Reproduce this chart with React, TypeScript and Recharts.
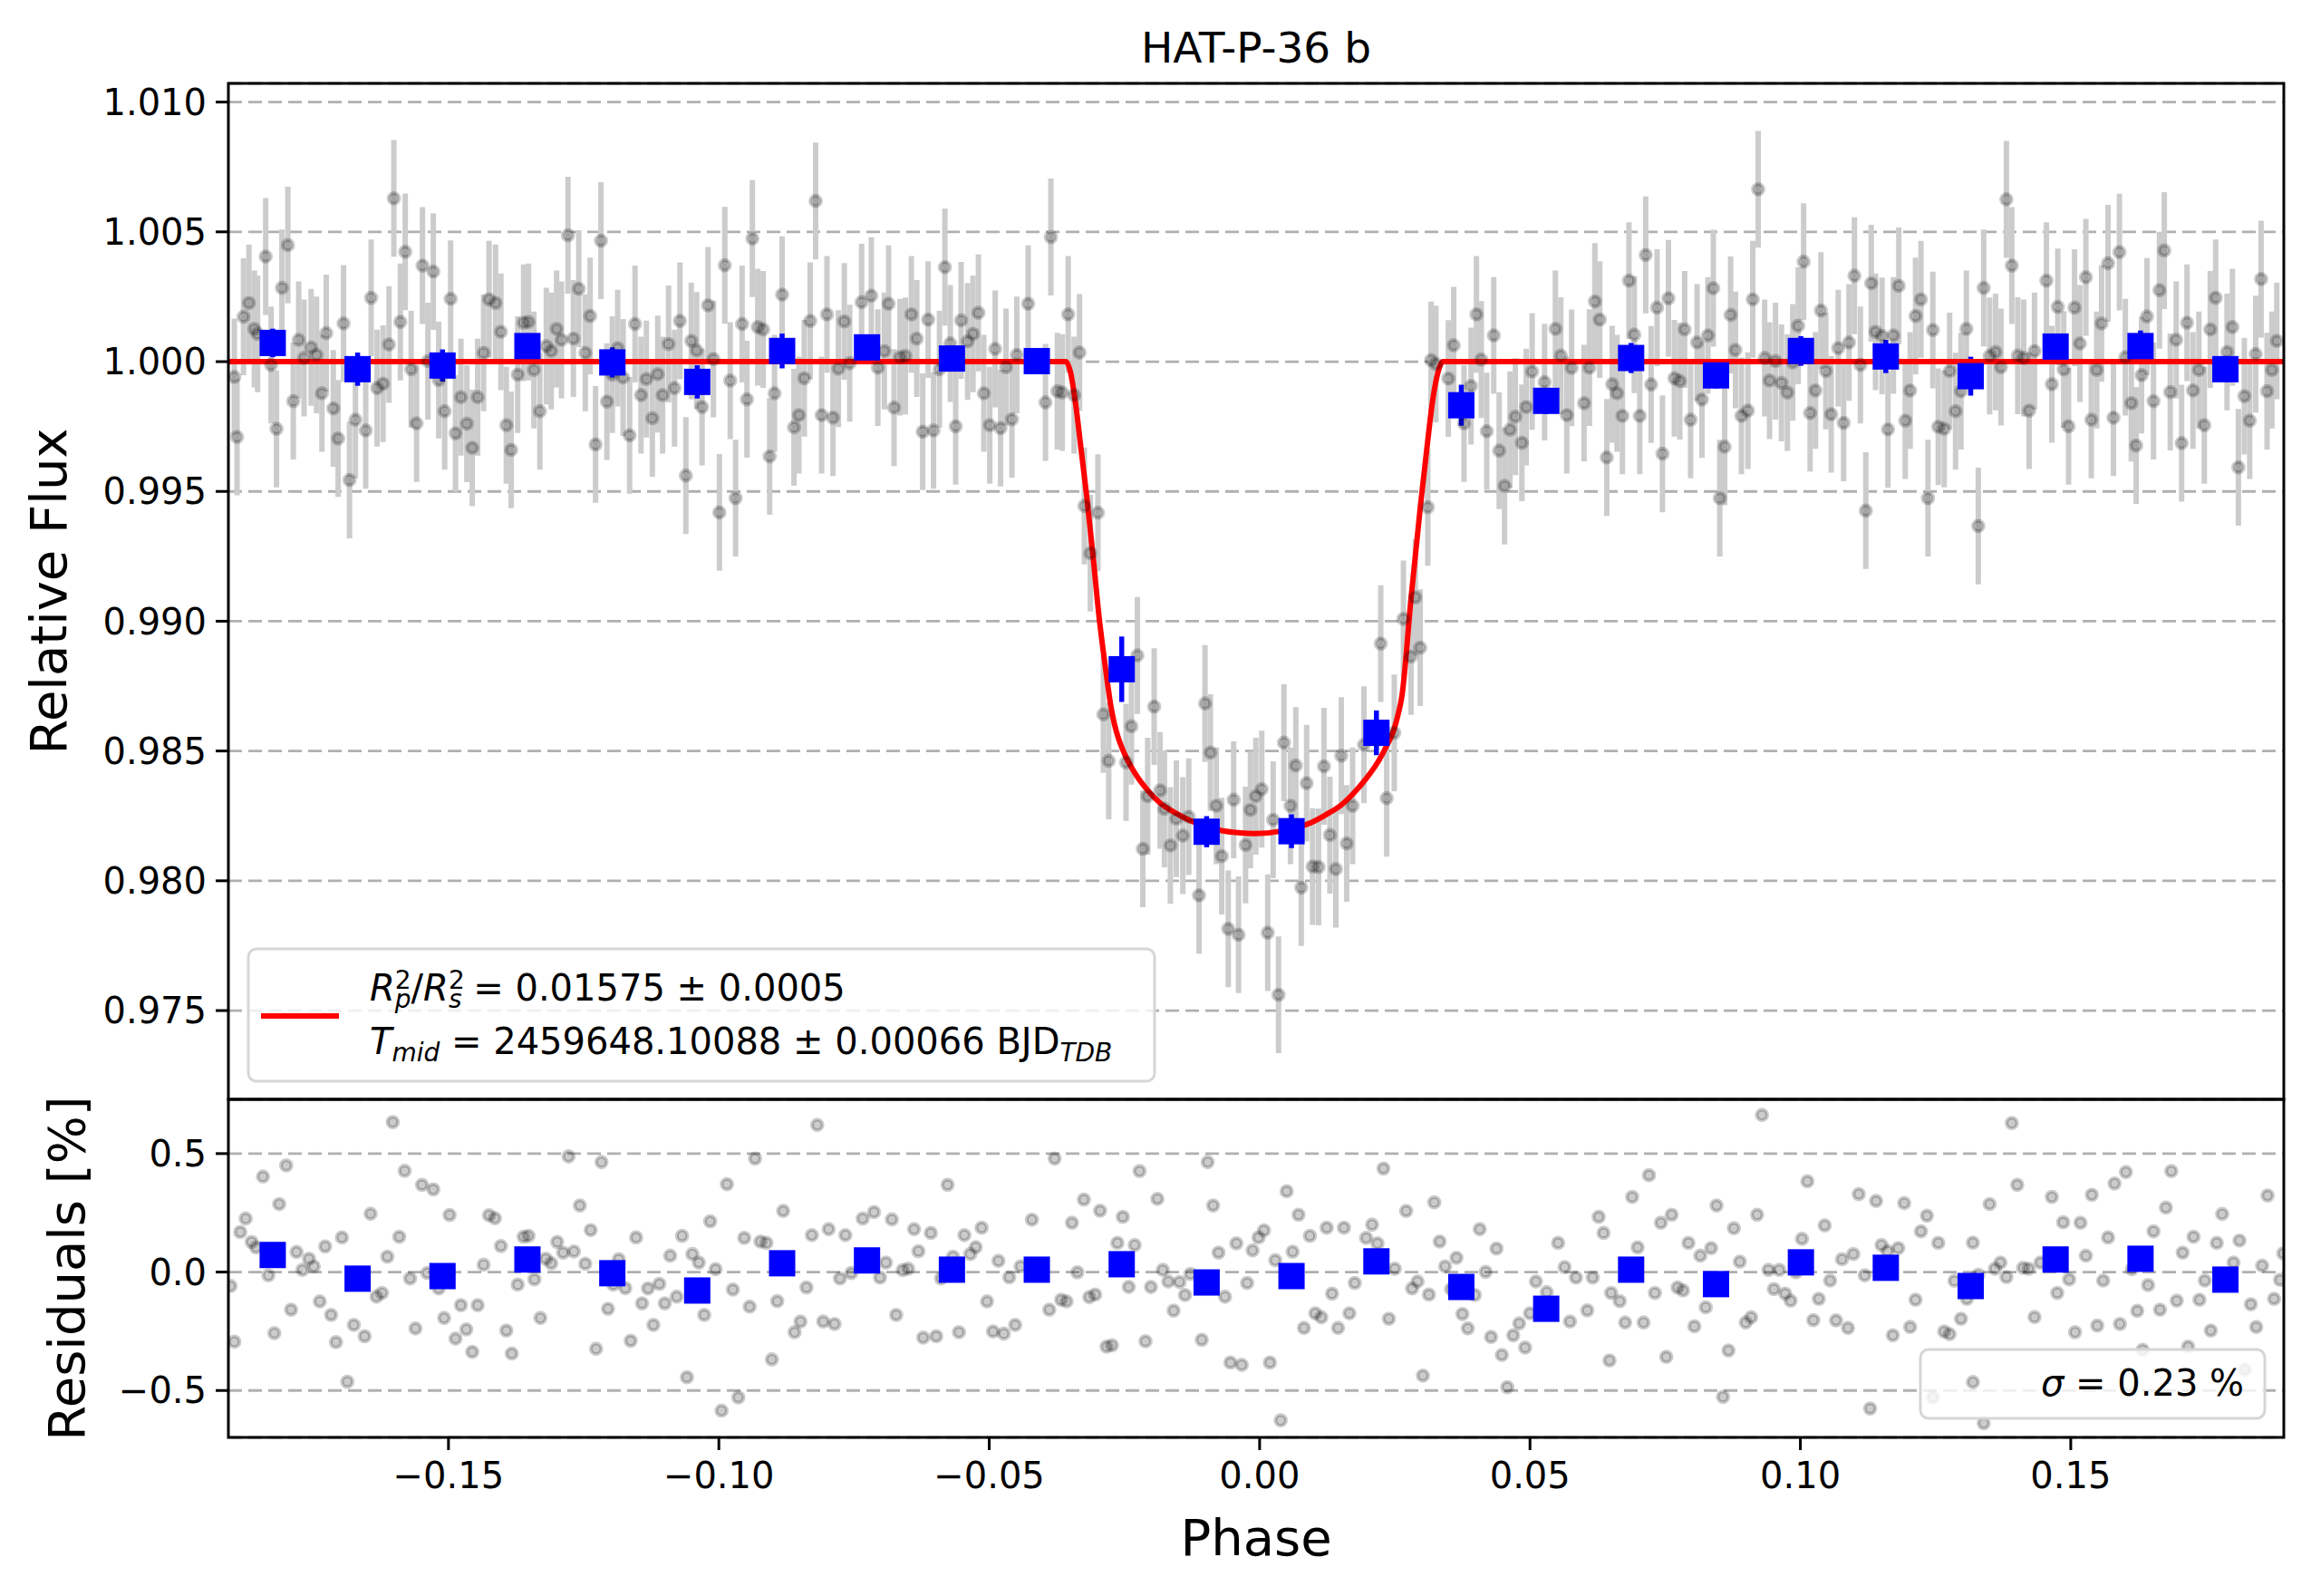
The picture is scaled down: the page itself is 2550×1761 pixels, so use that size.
import React from 'react';
import { ComposedChart, Scatter, Line, XAxis, YAxis, CartesianGrid, ErrorBar } from 'recharts';

const FONT = 'DejaVu Sans';

// ---------- axes ----------
const phaseDomain: [number, number] = [-0.1907, 0.1894];
const fluxDomain: [number, number] = [0.97158, 1.01072];
const residDomain: [number, number] = [-0.698, 0.729];
const phaseTicks = [-0.15, -0.1, -0.05, 0, 0.05, 0.1, 0.15];
const fluxTicks = [0.975, 0.98, 0.985, 0.99, 0.995, 1.0, 1.005, 1.01];
const residTicks = [-0.5, 0, 0.5];

// ---------- data ----------
const fluxError = 0.00225;

const fluxPoints: [number, number][] = [
  [-0.1896,0.99941],[-0.1891,0.99710],[-0.1879,1.00173],[-0.1869,1.00226],[-0.1859,1.00126],[-0.1853,1.00107],[-0.1838,1.00405],[-0.1828,0.99987],[-0.1818,0.99741],[-0.1808,1.00284],[-0.1797,1.00449],[-0.1787,0.99848],[-0.1777,1.00084],[-0.1767,1.00014],[-0.1754,1.00055],[-0.1744,1.00026],[-0.1734,0.99878],[-0.1726,1.00110],[-0.1713,0.99820],[-0.1704,0.99704],[-0.1694,1.00147],[-0.1683,0.99544],[-0.1672,0.99776],[-0.1653,0.99735],[-0.1643,1.00246],[-0.1632,0.99898],[-0.1621,0.99915],[-0.1610,1.00066],[-0.1601,1.00629],[-0.1589,1.00153],[-0.1580,1.00423],[-0.1569,0.99971],[-0.1559,0.99762],[-0.1548,1.00370],[-0.1538,1.00002],[-0.1528,1.00347],[-0.1518,0.99929],[-0.1507,0.99809],[-0.1496,1.00242],[-0.1487,0.99724],[-0.1477,0.99863],[-0.1466,0.99761],[-0.1456,0.99668],[-0.1446,0.99863],[-0.1435,1.00034],[-0.1425,1.00240],[-0.1413,1.00226],[-0.1403,1.00115],[-0.1393,0.99755],[-0.1384,0.99660],[-0.1372,0.99950],[-0.1361,1.00150],[-0.1352,1.00153],[-0.1342,0.99968],[-0.1331,0.99809],[-0.1319,1.00060],[-0.1310,1.00041],[-0.1300,1.00126],[-0.1291,1.00084],[-0.1279,1.00487],[-0.1269,1.00089],[-0.1259,1.00281],[-0.1247,1.00034],[-0.1238,1.00176],[-0.1228,0.99681],[-0.1218,1.00466],[-0.1207,0.99846],[-0.1197,0.99950],[-0.1187,1.00052],[-0.1177,0.99939],[-0.1165,0.99716],[-0.1155,1.00145],[-0.1144,0.99871],[-0.1134,0.99933],[-0.1123,0.99782],[-0.1113,0.99952],[-0.1104,0.99871],[-0.1093,1.00068],[-0.1082,0.99898],[-0.1072,1.00157],[-0.1061,0.99561],[-0.1051,1.00080],[-0.1041,1.00043],[-0.1031,0.99825],[-0.1020,1.00217],[-0.1010,1.00010],[-0.0999,0.99419],[-0.0989,1.00371],[-0.0979,0.99927],[-0.0969,0.99474],[-0.0957,1.00145],[-0.0948,0.99855],[-0.0938,1.00474],[-0.0928,1.00133],[-0.0918,1.00124],[-0.0906,0.99635],[-0.0897,0.99878],
  [-0.0883,1.00258],[-0.0861,0.99747],[-0.0852,0.99794],[-0.0842,0.99936],[-0.0831,1.00157],[-0.0821,1.00619],[-0.0810,0.99794],[-0.0800,1.00182],[-0.0789,0.99784],[-0.0779,0.99973],[-0.0768,1.00155],[-0.0758,0.99994],[-0.0736,1.00229],[-0.0718,1.00254],[-0.0706,0.99977],[-0.0694,1.00041],[-0.0686,1.00223],[-0.0676,0.99823],[-0.0665,1.00017],[-0.0655,1.00022],[-0.0644,1.00182],[-0.0634,1.00089],[-0.0623,0.99730],[-0.0613,1.00162],[-0.0603,0.99735],[-0.0592,0.99971],[-0.0582,1.00364],[-0.0572,1.00070],[-0.0562,0.99751],[-0.0552,1.00159],[-0.0540,1.00078],[-0.0530,1.00107],[-0.0520,1.00188],[-0.0510,0.99878],[-0.0499,0.99755],[-0.0489,1.00049],[-0.0479,0.99744],[-0.0469,0.99979],[-0.0458,0.99778],[-0.0449,1.00026],[-0.0428,1.00223],[-0.0396,0.99843],[-0.0386,1.00480],[-0.0374,0.99886],[-0.0365,0.99881],[-0.0354,1.00182],[-0.0343,0.99871],[-0.0333,1.00035],
  [-0.0324,0.99444],[-0.0313,0.99262],[-0.0299,0.99418],[-0.0289,0.98641],[-0.0279,0.98462],[-0.0247,0.98456],[-0.0237,0.98595],[-0.0226,0.98868],[-0.0216,0.98123],[-0.0207,0.98326],[-0.0195,0.98671],[-0.0184,0.98348],[-0.0176,0.98277],[-0.0165,0.98136],[-0.0154,0.98239],[-0.0142,0.98174],[-0.0131,0.98247],[-0.0112,0.97944],[-0.0101,0.98683],[-0.0091,0.98494],[-0.0080,0.98289],[-0.0070,0.98095],[-0.0058,0.97815],[-0.0048,0.98312],[-0.0039,0.97792],[-0.0026,0.98138],[-0.0017,0.98273],[-0.0007,0.98326],[0.0004,0.98353],[0.0015,0.97800],[0.0025,0.98235],[0.0035,0.97561],[0.0045,0.98532],[0.0057,0.98289],[0.0067,0.98444],[0.0077,0.97974],[0.0087,0.98376],[0.0098,0.98055],[0.0109,0.98053],[0.0119,0.98441],[0.0130,0.98176],[0.0141,0.98045],[0.0151,0.98482],[0.0161,0.98144],[0.0172,0.98289],[0.0193,0.98524],[0.0224,0.98914],[0.0235,0.98318],[0.0249,0.98570],[0.0266,0.99009],[0.0280,0.98864],[0.0288,0.99092],[0.0297,0.98898],[0.0311,0.99439],
  [0.0317,1.00006],[0.0326,0.99991],[0.0349,0.99935],[0.0359,1.00063],[0.0378,0.99762],[0.0391,0.99906],[0.0401,1.00182],[0.0410,1.00008],[0.0420,0.99732],[0.0433,1.00101],[0.0443,0.99657],[0.0453,0.99521],[0.0463,0.99738],[0.0473,0.99788],[0.0485,0.99687],[0.0493,0.99825],[0.0504,0.99962],[0.0527,0.99921],[0.0547,1.00126],[0.0557,1.00023],[0.0568,0.99794],[0.0577,0.99976],[0.0600,0.99840],[0.0610,0.99977],[0.0620,1.00232],[0.0629,1.00162],[0.0642,0.99631],[0.0652,0.99913],[0.0661,0.99878],[0.0671,0.99791],[0.0683,1.00312],[0.0693,1.00104],[0.0703,0.99791],[0.0714,1.00411],[0.0724,0.99912],[0.0735,1.00208],[0.0745,0.99645],[0.0756,1.00244],[0.0767,0.99936],[0.0777,0.99925],[0.0786,1.00124],[0.0797,0.99776],[0.0809,1.00074],[0.0818,0.99854],[0.0829,1.00101],[0.0839,1.00283],[0.0851,0.99474],[0.0860,0.99672],[0.0871,1.00180],[0.0880,1.00045],[0.0891,0.99791],[0.0903,0.99811],[0.0912,1.00240],[0.0922,1.00664],[0.0934,1.00014],[0.0943,0.99927],[0.0954,1.00002],[0.0965,0.99918],[0.0976,0.99881],[0.0986,0.99997],[0.0996,1.00138],[0.1006,1.00385],[0.1018,0.99802],[0.1028,0.99889],[0.1038,1.00197],[0.1047,0.99964],[0.1057,0.99797],[0.1070,1.00052],[0.1080,0.99764],[0.1090,1.00074],[0.1100,1.00331],[0.1111,0.99987],[0.1121,0.99426],[0.1131,1.00302],[0.1139,1.00115],
  [0.1151,1.00099],[0.1162,0.99739],[0.1172,1.00101],[0.1182,1.00292],[0.1194,0.99773],[0.1203,0.99889],[0.1213,1.00176],[0.1223,1.00240],[0.1236,0.99474],[0.1245,1.00122],[0.1255,0.99749],[0.1266,0.99741],[0.1276,0.99964],[0.1287,0.99809],[0.1297,0.99886],[0.1307,1.00126],[0.1329,0.99367],[0.1339,1.00284],[0.1350,1.00022],[0.1361,1.00037],[0.1371,0.99979],[0.1381,1.00625],[0.1391,1.00370],[0.1402,1.00023],[0.1413,1.00014],[0.1423,0.99811],[0.1433,1.00041],[0.1455,1.00312],[0.1465,0.99913],[0.1476,1.00211],[0.1487,0.99970],[0.1496,0.99751],[0.1507,1.00208],[0.1517,1.00070],[0.1528,1.00325],[0.1538,0.99776],[0.1548,0.99968],[0.1557,1.00147],[0.1569,1.00379],[0.1579,0.99784],[0.1590,1.00422],[0.1601,1.00017],[0.1612,0.99840],[0.1621,0.99677],[0.1631,0.99948],[0.1641,1.00174],[0.1653,0.99848],[0.1664,1.00275],[0.1673,1.00428],[0.1684,0.99883],[0.1695,1.00084],[0.1705,0.99686],[0.1715,1.00150],[0.1726,0.99889],[0.1737,0.99968],[0.1747,0.99755],[0.1758,1.00124],[0.1768,1.00246],[0.1789,1.00037],[0.1799,1.00133],[0.1810,0.99593],[0.1821,0.99867],[0.1831,0.99773],[0.1842,1.00029],[0.1852,1.00318],[0.1863,0.99886],[0.1872,0.99968],[0.1881,1.00080],
];

const residPoints: [number, number][] = [
  [-0.1903,-0.059],[-0.1896,-0.294],[-0.1885,0.169],[-0.1875,0.226],[-0.1864,0.127],[-0.1856,0.104],[-0.1843,0.403],[-0.1833,-0.014],[-0.1822,-0.258],[-0.1813,0.287],[-0.1800,0.450],[-0.1791,-0.159],[-0.1781,0.085],[-0.1770,0.009],[-0.1758,0.056],[-0.1749,0.024],[-0.1738,-0.124],[-0.1728,0.108],[-0.1717,-0.181],[-0.1708,-0.296],[-0.1697,0.146],[-0.1687,-0.463],[-0.1675,-0.223],[-0.1655,-0.271],[-0.1644,0.246],[-0.1633,-0.104],[-0.1623,-0.088],[-0.1613,0.065],[-0.1603,0.633],[-0.1591,0.149],[-0.1581,0.427],[-0.1571,-0.027],[-0.1561,-0.238],[-0.1549,0.368],[-0.1539,-0.004],[-0.1528,0.349],[-0.1518,-0.069],[-0.1508,-0.194],[-0.1498,0.241],[-0.1487,-0.281],[-0.1477,-0.140],[-0.1467,-0.242],[-0.1456,-0.337],[-0.1446,-0.140],[-0.1435,0.031],[-0.1425,0.240],[-0.1414,0.227],[-0.1403,0.110],[-0.1393,-0.247],[-0.1383,-0.344],[-0.1372,-0.053],[-0.1361,0.149],[-0.1352,0.153],[-0.1341,-0.031],[-0.1330,-0.194],[-0.1320,0.056],[-0.1310,0.037],[-0.1299,0.127],[-0.1288,0.082],[-0.1278,0.488],[-0.1268,0.087],[-0.1257,0.281],[-0.1247,0.035],[-0.1237,0.177],[-0.1227,-0.324],[-0.1217,0.464],[-0.1205,-0.155],[-0.1195,-0.053],[-0.1185,0.054],[-0.1173,-0.068],[-0.1163,-0.290],[-0.1153,0.146],[-0.1142,-0.132],[-0.1131,-0.069],[-0.1121,-0.223],[-0.1110,-0.050],[-0.1100,-0.132],[-0.1090,0.069],[-0.1078,-0.104],[-0.1068,0.153],[-0.1059,-0.444],[-0.1049,0.076],[-0.1037,0.040],[-0.1027,-0.181],[-0.1016,0.214],[-0.1006,0.012],[-0.0995,-0.585],[-0.0985,0.371],[-0.0974,-0.074],[-0.0964,-0.529],[-0.0953,0.144],[-0.0943,-0.146],[-0.0933,0.479],[-0.0923,0.129],[-0.0912,0.123],[-0.0902,-0.369],[-0.0892,-0.123],[-0.0881,0.258],[-0.0860,-0.254],[-0.0849,-0.209],[-0.0838,-0.065],[-0.0828,0.156],[-0.0818,0.621],[-0.0807,-0.209],[-0.0797,0.181],[-0.0786,-0.219],[-0.0776,-0.027],[-0.0766,0.156],[-0.0755,-0.004],[-0.0734,0.226],[-0.0713,0.253],[-0.0702,-0.023],[-0.0691,0.040],[-0.0680,0.222],[-0.0672,-0.181],[-0.0660,0.008],[-0.0650,0.014],[-0.0639,0.181],[-0.0631,0.088],[-0.0622,-0.277],
  [-0.0608,0.165],[-0.0598,-0.271],[-0.0589,-0.027],[-0.0577,0.368],[-0.0567,0.065],[-0.0556,-0.254],[-0.0546,0.156],[-0.0535,0.076],[-0.0525,0.105],[-0.0514,0.187],[-0.0504,-0.124],[-0.0493,-0.251],[-0.0483,0.047],[-0.0473,-0.260],[-0.0463,-0.022],[-0.0452,-0.223],[-0.0442,0.024],[-0.0421,0.221],[-0.0389,-0.159],[-0.0379,0.479],[-0.0367,-0.117],[-0.0357,-0.124],[-0.0347,0.208],[-0.0337,-0.001],[-0.0325,0.306],[-0.0315,-0.106],[-0.0304,-0.095],[-0.0295,0.259],[-0.0283,-0.315],[-0.0273,-0.309],[-0.0263,0.123],[-0.0253,0.233],[-0.0242,-0.063],[-0.0231,0.114],[-0.0222,0.426],[-0.0211,-0.292],[-0.0201,-0.063],[-0.0189,0.309],[-0.0179,0.009],[-0.0169,-0.040],[-0.0159,-0.163],[-0.0148,-0.042],[-0.0138,-0.097],[-0.0128,-0.008],[-0.0107,-0.286],[-0.0096,0.464],[-0.0086,0.281],[-0.0076,0.082],[-0.0064,-0.104],[-0.0054,-0.382],[-0.0043,0.121],[-0.0033,-0.392],[-0.0023,-0.046],[-0.0013,0.091],[-0.0002,0.146],[0.0008,0.176],[0.0019,-0.382],[0.0029,0.050],[0.0039,-0.626],[0.0050,0.341],[0.0061,0.086],[0.0072,0.242],[0.0082,-0.236],[0.0093,0.153],[0.0103,-0.174],[0.0114,-0.191],[0.0124,0.187],[0.0134,-0.091],[0.0145,-0.236],[0.0156,0.187],[0.0166,-0.174],[0.0176,-0.046],[0.0197,0.144],[0.0208,0.200],[0.0218,0.121],[0.0229,0.437],[0.0239,-0.197],[0.0250,0.014],[0.0271,0.258],[0.0282,-0.069],[0.0292,-0.040],[0.0302,-0.437],[0.0313,-0.095],[0.0323,0.294],[0.0333,0.129],[0.0343,0.024],[0.0354,-0.072],[0.0364,0.060],[0.0375,-0.177],[0.0385,-0.238],[0.0398,-0.097],[0.0407,0.181],[0.0418,0.001],[0.0428,-0.274],[0.0438,0.099],[0.0448,-0.350],[0.0458,-0.486],[0.0469,-0.267],[0.0480,-0.217],[0.0491,-0.319],[0.0500,-0.174],[0.0511,-0.040],[0.0531,-0.085],[0.0552,0.123],[0.0564,0.021],[0.0574,-0.209],[0.0585,-0.023],[0.0606,-0.162],[0.0616,-0.023],[0.0627,0.233],[0.0636,0.165],[0.0647,-0.373],[0.0650,-0.088],
  [0.0666,-0.123],[0.0676,-0.213],[0.0689,0.317],[0.0699,0.104],[0.0710,-0.213],[0.0720,0.409],[0.0731,-0.088],[0.0742,0.208],[0.0752,-0.358],[0.0762,0.242],[0.0773,-0.065],[0.0783,-0.078],[0.0793,0.123],[0.0804,-0.229],[0.0815,0.069],[0.0825,-0.149],[0.0835,0.101],[0.0845,0.281],[0.0857,-0.527],[0.0867,-0.331],[0.0877,0.185],[0.0888,0.044],[0.0899,-0.213],[0.0909,-0.191],[0.0920,0.242],[0.0929,0.663],[0.0941,0.009],[0.0951,-0.072],[0.0961,0.009],[0.0972,-0.091],[0.0982,-0.121],[0.0992,-0.001],[0.1003,0.140],[0.1013,0.383],[0.1024,-0.203],[0.1034,-0.113],[0.1045,0.197],[0.1055,-0.036],[0.1066,-0.204],[0.1077,0.054],[0.1088,-0.236],[0.1098,0.076],[0.1108,0.329],[0.1119,-0.014],[0.1129,-0.576],[0.1140,0.300],[0.1150,0.114],[0.1161,0.088],[0.1171,-0.267],[0.1181,0.101],[0.1192,0.291],[0.1203,-0.232],[0.1213,-0.117],[0.1223,0.172],[0.1234,0.238],[0.1245,-0.529],[0.1255,0.123],[0.1266,-0.251],[0.1276,-0.262],[0.1285,-0.037],[0.1297,-0.197],[0.1308,-0.113],[0.1319,0.124],[0.1329,-0.012],[0.1339,-0.638],[0.1350,0.287],[0.1360,0.014],[0.1370,0.040],[0.1381,-0.021],[0.1391,0.629],[0.1401,0.368],[0.1412,0.018],[0.1422,0.014],[0.1433,-0.190],[0.1444,0.040],[0.1465,0.317],[0.1475,-0.088],[0.1486,0.210],[0.1497,-0.031],[0.1508,-0.254],[0.1518,0.208],[0.1528,0.069],[0.1539,0.326],[0.1549,-0.226],[0.1560,-0.036],[0.1569,0.146],[0.1581,0.374],[0.1591,-0.219],[0.1602,0.422],[0.1613,0.012],[0.1623,-0.164],[0.1633,-0.328],[0.1643,-0.055],[0.1653,0.172],[0.1665,-0.159],[0.1676,0.272],[0.1686,0.426],[0.1696,-0.121],[0.1707,0.082],[0.1717,-0.315],[0.1727,0.149],[0.1738,-0.117],[0.1748,-0.036],[0.1759,-0.247],[0.1770,0.123],[0.1780,0.245],[0.1801,0.040],[0.1812,0.133],[0.1822,-0.412],[0.1833,-0.136],[0.1843,-0.232],[0.1854,0.027],[0.1864,0.323],[0.1876,-0.113],[0.1887,-0.033],[0.1893,0.079],
];

const binPhase = [-0.1825,-0.1668,-0.1511,-0.1354,-0.1197,-0.1040,-0.0883,-0.0726,-0.0569,-0.0412,-0.0255,-0.0098,0.0059,0.0216,0.0373,0.0530,0.0687,0.0844,0.1001,0.1158,0.1315,0.1472,0.1629,0.1786];
const binFlux = [1.00072,0.99971,0.99985,1.00060,0.99997,0.99922,1.00041,1.00055,1.00012,1.00002,0.98815,0.98189,0.98191,0.98570,0.99832,0.99849,1.00014,0.99947,1.00041,1.00020,0.99944,1.00058,1.00060,0.99971];
const binFluxErr = [0.00055,0.00064,0.00062,0.00048,0.00058,0.00064,0.00067,0.0004,0.0005,0.0004,0.00126,0.0006,0.00065,0.00086,0.00079,0.0005,0.00058,0.0005,0.00057,0.00064,0.00075,0.0005,0.0006,0.0005];
const binResid = [0.072,-0.028,-0.017,0.053,-0.005,-0.078,0.037,0.049,0.010,0.010,0.033,-0.044,-0.017,0.045,-0.063,-0.155,0.010,-0.051,0.041,0.018,-0.059,0.053,0.056,-0.032];

const modelPoints: [number, number][] = [
  [-0.1907,1.0],[-0.0358,1.0],[-0.0350,0.99962],[-0.0340,0.99834],[-0.0330,0.99660],[-0.0320,0.99486],[-0.0308,0.99250],[-0.0296,0.99000],[-0.0285,0.98820],[-0.0274,0.98660],[-0.0268,0.98600],[-0.0262,0.98555],[-0.0250,0.98490],[-0.0235,0.98430],[-0.0212,0.98361],[-0.0184,0.98300],[-0.0156,0.98262],[-0.0128,0.98232],[-0.0100,0.98210],[-0.0072,0.98194],[-0.0040,0.98185],[-0.0008,0.98182],[0.0039,0.98191],[0.0067,0.98205],[0.0095,0.98224],[0.0123,0.98255],[0.0151,0.98292],[0.0175,0.98340],[0.0196,0.98391],[0.0218,0.98455],[0.0235,0.98520],[0.0248,0.98580],[0.0256,0.98640],[0.0263,0.98709],[0.0280,0.99088],[0.0297,0.99436],[0.0309,0.99660],[0.0320,0.99850],[0.0330,0.99960],[0.0339,1.0],[0.1894,1.0],
];

// ---------- tables for the library ----------
const fluxData = fluxPoints.map(([x, y]) => ({ x, y, e: fluxError }));
const residData = residPoints.map(([x, y]) => ({ x, y }));
const binData = binPhase.map((x, i) => ({ x, y: binFlux[i], e: binFluxErr[i] }));
const binResidData = binPhase.map((x, i) => ({ x, y: binResid[i] }));
const modelData = modelPoints.map(([x, y]) => ({ x, y }));

// ---------- layout ----------
const PL = 252, PR = 2520, TT = 92, TB = 1213, BB = 1586;

const minus = (s: string) => s.replace('-', '\u2212');
const fmtPhase = (v: number) => minus(v.toFixed(2));
const fmtFlux = (v: number) => v.toFixed(3);
const fmtResid = (v: number) => minus(v.toFixed(1));

const GrayDot = (p: any) => {
  if (p.cx == null || p.cy == null) return <g />;
  return <circle cx={p.cx} cy={p.cy} r={5.8} fill="rgba(0,0,0,0.2)" stroke="rgba(0,0,0,0.2)" strokeWidth={4.2} />;
};
const BlueSquare = (p: any) => {
  if (p.cx == null || p.cy == null) return <g />;
  return <rect x={p.cx - 14.5} y={p.cy - 14.5} width={29} height={29} fill="#0000ff" />;
};

const tickStyle = { fontSize: 40, fill: '#000', fontFamily: FONT };
const tickLine = { stroke: '#000', strokeWidth: 3 };
const gridProps = { vertical: false, stroke: '#b0b0b0', strokeDasharray: '15 7', strokeWidth: 2.8 };

export default function App() {
  return (
    <div style={{ position: 'absolute', left: 0, top: 0, width: 2550, height: 1761, background: '#fff', overflow: 'hidden', fontFamily: FONT }}>
      <div style={{ position: 'absolute', left: 0, top: 0 }}>
        <ComposedChart width={2550} height={TB} margin={{ top: TT, right: 2550 - PR, bottom: 0, left: 0 }}>
          <CartesianGrid {...gridProps} />
          <XAxis type="number" dataKey="x" domain={phaseDomain} ticks={phaseTicks} allowDataOverflow hide />
          <YAxis type="number" dataKey="y" domain={fluxDomain} ticks={fluxTicks} allowDataOverflow interval={0}
            width={PL} axisLine={false} tickLine={tickLine} tickSize={14} tickMargin={10} tick={tickStyle} tickFormatter={fmtFlux} />
          <Scatter data={fluxData} shape={GrayDot} isAnimationActive={false}>
            <ErrorBar dataKey="e" direction="y" width={0} stroke="#cccccc" strokeWidth={6} />
          </Scatter>
          <Scatter data={binData} shape={BlueSquare} isAnimationActive={false}>
            <ErrorBar dataKey="e" direction="y" width={0} stroke="#0000ff" strokeWidth={5.5} />
          </Scatter>
          <Line data={modelData} dataKey="y" type="monotone" dot={false} activeDot={false} stroke="#ff0000" strokeWidth={6} isAnimationActive={false} />
        </ComposedChart>
      </div>
      <div style={{ position: 'absolute', left: 0, top: TB }}>
        <ComposedChart width={2550} height={1761 - TB} margin={{ top: 0, right: 2550 - PR, bottom: 1761 - TB - (BB - TB) - 80, left: 0 }}>
          <CartesianGrid {...gridProps} />
          <XAxis type="number" dataKey="x" domain={phaseDomain} ticks={phaseTicks} allowDataOverflow interval={0} height={80}
            axisLine={false} tickLine={tickLine} tickSize={14} tickMargin={14} tick={tickStyle} tickFormatter={fmtPhase} />
          <YAxis type="number" dataKey="y" domain={residDomain} ticks={residTicks} allowDataOverflow interval={0}
            width={PL} axisLine={false} tickLine={tickLine} tickSize={14} tickMargin={10} tick={tickStyle} tickFormatter={fmtResid} />
          <Scatter data={residData} shape={GrayDot} isAnimationActive={false} />
          <Scatter data={binResidData} shape={BlueSquare} isAnimationActive={false} />
        </ComposedChart>
      </div>
      <svg width={2550} height={1761} style={{ position: 'absolute', left: 0, top: 0, pointerEvents: 'none' }} fontFamily={FONT}>
        <rect x={PL} y={TT} width={PR - PL} height={TB - TT} fill="none" stroke="#000" strokeWidth={3} />
        <rect x={PL} y={TB} width={PR - PL} height={BB - TB} fill="none" stroke="#000" strokeWidth={3} />
        <text x={(PL + PR) / 2} y={69} textAnchor="middle" fontSize={47} fill="#000">HAT-P-36 b</text>
        <text transform={`translate(53, ${(TT + TB) / 2}) rotate(-90)`} textAnchor="middle" dominantBaseline="central" fontSize={56} fill="#000">Relative Flux</text>
        <text transform={`translate(73, ${(TB + BB) / 2}) rotate(-90)`} textAnchor="middle" dominantBaseline="central" fontSize={56} fill="#000">Residuals [%]</text>
        <text x={(PL + PR) / 2} y={1716} textAnchor="middle" fontSize={56} fill="#000">Phase</text>

        {/* top legend */}
        <rect x={274} y={1047} width={1000} height={146} rx={9} fill="rgba(255,255,255,0.8)" stroke="#d6d6d6" strokeWidth={3} />
        <line x1={288} x2={374} y1={1121} y2={1121} stroke="#ff0000" strokeWidth={6} />
        <text x={408} y={1104} fontSize={40} fill="#000">
          <tspan fontStyle="italic">R</tspan>
          <tspan fontSize={28} dy={-13}>2</tspan>
          <tspan fontSize={28} fontStyle="italic" dx={-17.8} dy={21}>p</tspan>
          <tspan dy={-8}>/</tspan>
          <tspan fontStyle="italic">R</tspan>
          <tspan fontSize={28} dy={-13}>2</tspan>
          <tspan fontSize={28} fontStyle="italic" dx={-17.8} dy={21}>s</tspan>
          <tspan dy={-8}>{'\u00a0= 0.01575 \u00b1 0.0005'}</tspan>
        </text>
        <text x={408} y={1163} fontSize={40} fill="#000">
          <tspan fontStyle="italic">T</tspan>
          <tspan fontSize={28} fontStyle="italic" dy={8}>mid</tspan>
          <tspan dy={-8}>{'\u00a0= 2459648.10088 \u00b1 0.00066 BJD'}</tspan>
          <tspan fontSize={28} fontStyle="italic" dy={8}>TDB</tspan>
        </text>

        {/* bottom legend */}
        <rect x={2119} y={1489} width={380} height={76} rx={9} fill="rgba(255,255,255,0.8)" stroke="#d6d6d6" strokeWidth={3} />
        <circle cx={2177} cy={1525} r={5.8} fill="rgba(0,0,0,0.2)" stroke="rgba(0,0,0,0.2)" strokeWidth={4.2} />
        <text x={2252} y={1540} fontSize={40} fill="#000">
          <tspan fontStyle="italic">σ</tspan>
          <tspan>{'\u00a0= 0.23 %'}</tspan>
        </text>
      </svg>
    </div>
  );
}
